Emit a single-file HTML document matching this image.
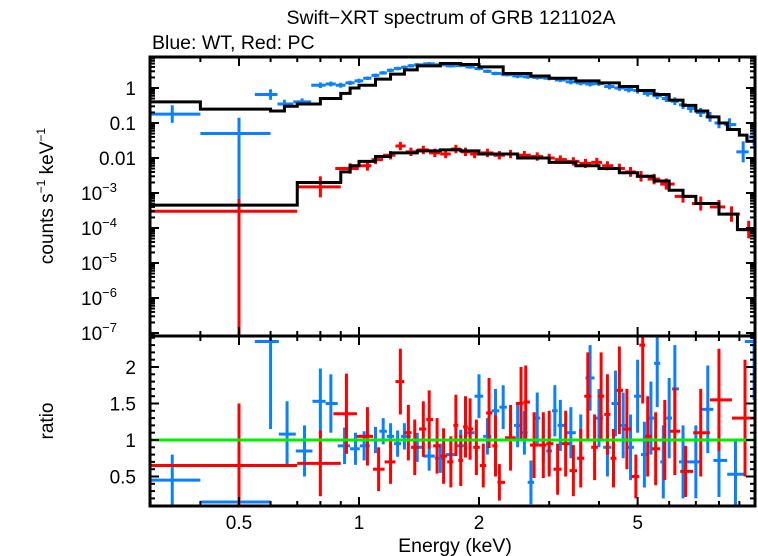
<!DOCTYPE html>
<html><head><meta charset="utf-8"><style>
html,body{margin:0;padding:0;background:#fff;}
svg{display:block;font-family:"Liberation Sans",sans-serif;}
</style></head><body>
<svg id="chart" width="758" height="556" viewBox="0 0 758 556" xmlns="http://www.w3.org/2000/svg">
<text x="451" y="24" font-size="19.5" text-anchor="middle">Swift−XRT spectrum of GRB 121102A</text>
<text x="152" y="49" font-size="19.5">Blue: WT, Red: PC</text>
<text transform="translate(53,196) rotate(-90)" font-size="19" text-anchor="middle">counts s<tspan font-size="12" dy="-8">−1</tspan><tspan dy="8"> keV</tspan><tspan font-size="12" dy="-8">−1</tspan></text>
<text transform="translate(53,421) rotate(-90)" font-size="19" text-anchor="middle">ratio</text>
<text x="455" y="552" font-size="19.5" text-anchor="middle">Energy (keV)</text>
<g id="marks"></g>
</svg>
<script>
// ---- data ----
const xTickVals = [0.5, 1, 2, 5];
const xTickLabels = ["0.5", "1", "2", "5"];
const yTopTickVals = [1, 0.1, 0.01, 1e-3, 1e-4, 1e-5, 1e-6, 1e-7];
const yTopTickLabels = ["1", "0.1", "0.01", "10|−3", "10|−4", "10|−5", "10|−6", "10|−7"];
const yBotTickVals = [0.5, 1, 1.5, 2];
const yBotTickLabels = ["0.5", "1", "1.5", "2"];

const blueModelEdges = [0.3,0.4,0.6,0.65,0.7,0.8,0.9,0.95,1.0,1.1,1.2,1.3,1.4,1.6,1.8,2.0,2.3,2.7,3.0,3.5,4.0,4.5,5.0,5.5,6.0,6.5,7.0,7.5,8.0,8.4,9.0,9.4,10];
const blueModelVals = [0.4,0.25,0.22,0.3,0.35,0.5,0.7,1.0,1.2,1.8,2.5,3.3,4.3,5.0,4.7,4.0,2.6,2.2,1.9,1.6,1.4,1.1,0.85,0.65,0.45,0.32,0.22,0.15,0.1,0.065,0.045,0.03];
const redModelEdges = [0.3,0.7,0.9,0.95,1.0,1.1,1.2,1.4,1.6,1.8,2.0,2.5,3.0,3.5,4.0,4.5,5.0,5.5,6.0,6.5,7.0,8.0,8.9,10];
const redModelVals = [4.5e-4,2e-3,4e-3,6e-3,8e-3,0.011,0.014,0.016,0.017,0.016,0.013,0.01,0.0075,0.006,0.005,0.0038,0.003,0.0022,0.0012,8e-4,5e-4,2.5e-4,9e-5];

const blueSpecE = [0.34,0.5,0.6,0.65,0.72,0.8,0.85,0.9,0.95,1.0,1.05,1.1,1.15,1.2,1.25,1.3,1.35,1.4,1.5,1.6,1.7,1.8,1.9,2.0,2.1,2.2,2.35,2.5,2.65,2.8,3.0,3.2,3.4,3.6,3.8,4.0,4.25,4.5,4.75,5.0,5.3,5.6,5.9,6.2,6.5,6.8,7.2,7.6,8.0,8.5,9.2,9.8];
const blueSpecV = [0.18,0.05,0.65,0.35,0.4,1.2,1.3,1.2,1.4,1.6,1.9,2.3,2.7,3.2,3.6,3.9,4.3,4.6,4.9,4.6,4.3,4.4,4.0,3.6,3.0,2.6,2.4,2.2,2.1,2.0,1.9,1.7,1.5,1.4,1.3,1.35,1.1,1.0,0.9,0.85,0.7,0.6,0.5,0.42,0.33,0.26,0.2,0.15,0.1,0.09,0.015,0.04];
const blueSpecErr = [0.25,0.45,0.15,0.12,0.1,0.08,0.07,0.07,0.06,0.06,0.05,0.05,0.05,0.05,0.05,0.05,0.05,0.05,0.05,0.05,0.05,0.05,0.05,0.05,0.05,0.05,0.05,0.06,0.06,0.06,0.06,0.06,0.07,0.07,0.07,0.07,0.08,0.08,0.08,0.09,0.09,0.1,0.1,0.11,0.12,0.12,0.13,0.14,0.15,0.18,0.3,0.25];
const blueSpecErrDown = [0.25,9,0.15,0.12,0.1,0.08,0.07,0.07,0.06,0.06,0.05,0.05,0.05,0.05,0.05,0.05,0.05,0.05,0.05,0.05,0.05,0.05,0.05,0.05,0.05,0.05,0.05,0.06,0.06,0.06,0.06,0.06,0.07,0.07,0.07,0.07,0.08,0.08,0.08,0.09,0.09,0.1,0.1,0.11,0.12,0.12,0.13,0.14,0.15,0.18,0.3,0.25];

const redSpecE = [0.5,0.8,0.95,1.05,1.1,1.2,1.27,1.35,1.45,1.55,1.65,1.75,1.85,1.95,2.1,2.25,2.4,2.6,2.8,3.0,3.2,3.45,3.7,3.95,4.2,4.5,4.8,5.1,5.5,5.9,6.5,7.2,8.0,8.6,9.5];
const redSpecV = [3e-4,1.5e-3,5e-3,6e-3,9e-3,0.012,0.022,0.015,0.017,0.014,0.013,0.018,0.015,0.013,0.014,0.012,0.013,0.012,0.011,0.01,0.009,0.008,0.007,0.0075,0.006,0.005,0.004,0.003,0.0025,0.0018,8e-4,5e-4,4e-4,2.5e-4,9e-5];
const redSpecErr = [0.35,0.3,0.15,0.14,0.13,0.12,0.12,0.12,0.12,0.12,0.12,0.12,0.12,0.12,0.12,0.12,0.12,0.12,0.12,0.12,0.12,0.12,0.13,0.13,0.13,0.14,0.14,0.15,0.15,0.16,0.18,0.2,0.2,0.22,0.25];
const redSpecErrDown = [9,0.3,0.15,0.14,0.13,0.12,0.12,0.12,0.12,0.12,0.12,0.12,0.12,0.12,0.12,0.12,0.12,0.12,0.12,0.12,0.12,0.12,0.13,0.13,0.13,0.14,0.14,0.15,0.15,0.16,0.18,0.2,0.2,0.22,0.25];

const blueRatE = [0.34,0.5,0.6,0.66,0.73,0.8,0.85,0.92,0.98,1.03,1.1,1.15,1.2,1.25,1.3,1.4,1.5,1.6,1.7,1.8,1.9,2.0,2.1,2.2,2.3,2.4,2.5,2.6,2.7,2.8,2.9,3.0,3.1,3.2,3.4,3.6,3.8,4.0,4.2,4.4,4.6,4.8,5.0,5.2,5.4,5.6,5.8,6.0,6.2,6.5,7.0,7.5,8.0,8.8,9.8];
const blueRatV = [0.45,0.15,2.35,1.08,0.85,1.53,1.5,0.92,0.88,0.92,1.0,1.12,1.05,0.95,1.05,0.9,0.78,0.75,0.8,0.92,1.1,1.6,1.05,1.4,1.45,1.0,1.2,1.1,0.42,1.3,1.0,0.85,1.4,1.2,1.1,1.0,1.85,1.3,0.9,1.5,1.2,0.9,1.6,0.8,1.3,2.05,0.7,1.3,1.7,0.7,0.7,1.42,0.72,0.53,2.35];
const blueRatErr = [0.35,0.35,1.2,0.45,0.35,0.45,0.4,0.25,0.22,0.2,0.18,0.18,0.18,0.18,0.18,0.2,0.2,0.2,0.2,0.22,0.22,0.3,0.25,0.3,0.3,0.25,0.3,0.3,0.3,0.35,0.3,0.3,0.35,0.35,0.35,0.35,0.45,0.4,0.4,0.45,0.45,0.45,0.5,0.45,0.5,0.6,0.5,0.55,0.6,0.5,0.5,0.6,0.5,0.45,0.8];

const redRatE = [0.5,0.8,0.93,1.05,1.12,1.2,1.27,1.33,1.38,1.45,1.5,1.57,1.63,1.7,1.75,1.8,1.85,1.9,1.97,2.05,2.12,2.2,2.25,2.4,2.55,2.62,2.75,2.9,3.0,3.15,3.3,3.45,3.6,3.75,3.9,4.05,4.2,4.35,4.5,4.7,4.95,5.15,5.3,5.55,5.85,6.2,6.6,7.2,8.0,9.3];
const redRatV = [0.65,0.68,1.36,1.05,0.6,0.7,1.8,1.1,0.9,1.15,1.28,0.92,0.78,0.7,1.2,0.72,1.18,1.15,0.9,0.65,1.37,0.92,0.42,1.03,1.5,1.52,0.93,0.93,0.95,0.6,0.95,0.58,0.75,1.6,0.9,1.6,1.35,0.75,1.68,1.15,0.5,2.3,1.05,0.88,1.0,1.12,0.57,1.1,1.55,1.3];
const redRatErr = [0.85,0.45,0.55,0.4,0.3,0.3,0.45,0.38,0.38,0.38,0.4,0.38,0.38,0.35,0.42,0.35,0.42,0.42,0.38,0.3,0.48,0.42,0.25,0.45,0.5,0.5,0.45,0.45,0.45,0.35,0.45,0.35,0.4,0.6,0.45,0.6,0.55,0.4,0.6,0.55,0.3,0.8,0.55,0.5,0.55,0.6,0.35,0.6,0.7,0.8];

// low-energy bin bounds (wide bins)
const blueLowBins = [[0.3, 0.4], [0.4, 0.6]];
const redLowBins = [[0.3, 0.7], [0.7, 0.9]];

// ---- scales ----
const L = 150, R = 755, T1 = 57, B1 = 336, T2 = 336, B2 = 506;
const xs = e => 359 + Math.log10(e) * 398.6;
const ysTop = v => 88 - Math.log10(v) * 35;
const ysBot = r => 440 - (r - 1) * 73;
const BLUE = "#0a80ff", RED = "#ff0000";
const NS = "http://www.w3.org/2000/svg";
const svg = document.getElementById("chart");
const marks = document.getElementById("marks");
const clampX = x => Math.max(L, Math.min(R, x));
function mk(tag, attrs, parent) {
  const el = document.createElementNS(NS, tag);
  for (const k in attrs) el.setAttribute(k, attrs[k]);
  (parent || marks).appendChild(el);
  return el;
}
function halfWidths(E, low) {
  return E.map((e, i) => {
    if (low && i < low.length) return low[i];
    const lo = i > 0 ? Math.sqrt(E[i - 1] * e) : e * e / Math.sqrt(E[i + 1] * e);
    const hi = i < E.length - 1 ? Math.sqrt(E[i + 1] * e) : e * e / Math.sqrt(E[i - 1] * e);
    return [lo, hi];
  });
}

const defs = mk("defs", {}, svg);
const c1 = mk("clipPath", {id: "clipTop"}, defs);
mk("rect", {x: L, y: T1, width: R - L, height: B1 - T1}, c1);
const c2 = mk("clipPath", {id: "clipBot"}, defs);
mk("rect", {x: L, y: T2, width: R - L, height: B2 - T2}, c2);

const gTop = mk("g", {"clip-path": "url(#clipTop)"});


const gBot = mk("g", {"clip-path": "url(#clipBot)"});



function drawSpec(E, V, Err, ErrD, color, name, low) {
  const hw = halfWidths(E, low);
  E.forEach((e, i) => {
    const g = mk("g", {stroke: color, "stroke-width": 3}, gTop);
    
    
    const y = ysTop(V[i]);
    mk("line", {x1: xs(hw[i][0]), x2: xs(hw[i][1]), y1: y, y2: y}, g);
    mk("line", {x1: xs(e), x2: xs(e), y1: ysTop(V[i] * Math.pow(10, Err[i])), y2: ysTop(V[i] / Math.pow(10, ErrD[i]))}, g);
  });
}
function drawRatio(E, V, Err, color, name, low) {
  const hw = halfWidths(E, low);
  E.forEach((e, i) => {
    const g = mk("g", {stroke: color, "stroke-width": 3}, gBot);
    
    
    const y = ysBot(V[i]);
    mk("line", {x1: xs(hw[i][0]), x2: xs(hw[i][1]), y1: y, y2: y}, g);
    mk("line", {x1: xs(e), x2: xs(e), y1: ysBot(V[i] + Err[i]), y2: ysBot(V[i] - Err[i])}, g);
  });
}
function drawModel(edges, vals, name) {
  let d = "";
  vals.forEach((v, i) => {
    const y = ysTop(v);
    d += (i === 0 ? "M" : "L") + clampX(xs(edges[i])) + "," + y + "L" + clampX(xs(edges[i + 1])) + "," + y;
  });
  const p = mk("path", {d: d, fill: "none", stroke: "#000", "stroke-width": 3}, gTop);
  
  
}

drawSpec(blueSpecE, blueSpecV, blueSpecErr, blueSpecErrDown, BLUE, "wt-data-point", blueLowBins);
drawSpec(redSpecE, redSpecV, redSpecErr, redSpecErrDown, RED, "pc-data-point", redLowBins);
drawModel(blueModelEdges, blueModelVals, "wt-model-line");
drawModel(redModelEdges, redModelVals, "pc-model-line");
drawRatio(blueRatE, blueRatV, blueRatErr, BLUE, "wt-ratio-point", blueLowBins);
drawRatio(redRatE, redRatV, redRatErr, RED, "pc-ratio-point", redLowBins);
const unity = mk("line", {x1: L, x2: R, y1: ysBot(1), y2: ysBot(1), stroke: "#00ee00", "stroke-width": 3}, gBot);



// ---- axes ----
const ax = mk("g", {stroke: "#000", "stroke-width": 2});


const minorX = [0.3,0.4,0.6,0.7,0.8,0.9,3,4,6,7,8,9];
[[T1, B1], [T2, B2]].forEach(([t, b]) => {
  xTickVals.forEach(v => { const x = xs(v); mk("line", {x1: x, x2: x, y1: t, y2: t + 9}, ax); mk("line", {x1: x, x2: x, y1: b, y2: b - 9}, ax); });
  minorX.forEach(v => { const x = xs(v); if (x < L || x > R) return; mk("line", {x1: x, x2: x, y1: t, y2: t + 5}, ax); mk("line", {x1: x, x2: x, y1: b, y2: b - 5}, ax); });
});
for (let p = -7; p <= 0; p++) {
  const y = ysTop(Math.pow(10, p));
  mk("line", {x1: L, x2: L + 9, y1: y, y2: y}, ax);
  mk("line", {x1: R, x2: R - 9, y1: y, y2: y}, ax);
  for (let m = 2; m <= 9; m++) {
    const ym = ysTop(m * Math.pow(10, p));
    if (ym < T1) continue;
    mk("line", {x1: L, x2: L + 5, y1: ym, y2: ym}, ax);
    mk("line", {x1: R, x2: R - 5, y1: ym, y2: ym}, ax);
  }
}
for (let m = 2; m <= 9; m++) { const ym = ysTop(m * 1e-8); if (ym <= B1) { mk("line", {x1: L, x2: L + 5, y1: ym, y2: ym}, ax); mk("line", {x1: R, x2: R - 5, y1: ym, y2: ym}, ax);} }
for (let r = 0.2; r <= 2.41; r += 0.1) {
  const y = ysBot(r);
  const major = Math.abs(r * 2 - Math.round(r * 2)) < 1e-6;
  const len = major ? 9 : 5;
  mk("line", {x1: L, x2: L + len, y1: y, y2: y}, ax);
  mk("line", {x1: R, x2: R - len, y1: y, y2: y}, ax);
}
mk("rect", {x: L, y: T1, width: R - L, height: B1 - T1, fill: "none", stroke: "#000", "stroke-width": 3});
mk("rect", {x: L, y: T2, width: R - L, height: B2 - T2, fill: "none", stroke: "#000", "stroke-width": 3});

xTickVals.forEach((v, i) => {
  const t = mk("text", {x: xs(v), y: 529, "font-size": 19, "text-anchor": "middle"});
  
  
  t.textContent = xTickLabels[i];
});
yTopTickVals.forEach((v, i) => {
  const t = mk("text", {x: 136, y: ysTop(v) + 7, "font-size": 19, "text-anchor": "end"});
  
  
  const parts = yTopTickLabels[i].split("|");
  if (parts.length === 1) { t.textContent = parts[0]; }
  else {
    t.setAttribute("x", 117);
    const s1 = mk("tspan", {}, t); s1.textContent = parts[0];
    const s2 = mk("tspan", {"font-size": 13, dy: -8}, t); s2.textContent = parts[1];
  }
});
yBotTickVals.forEach((v, i) => {
  const t = mk("text", {x: 136, y: ysBot(v) + 7, "font-size": 19, "text-anchor": "end"});
  
  
  t.textContent = yBotTickLabels[i];
});
</script>
</body></html>
